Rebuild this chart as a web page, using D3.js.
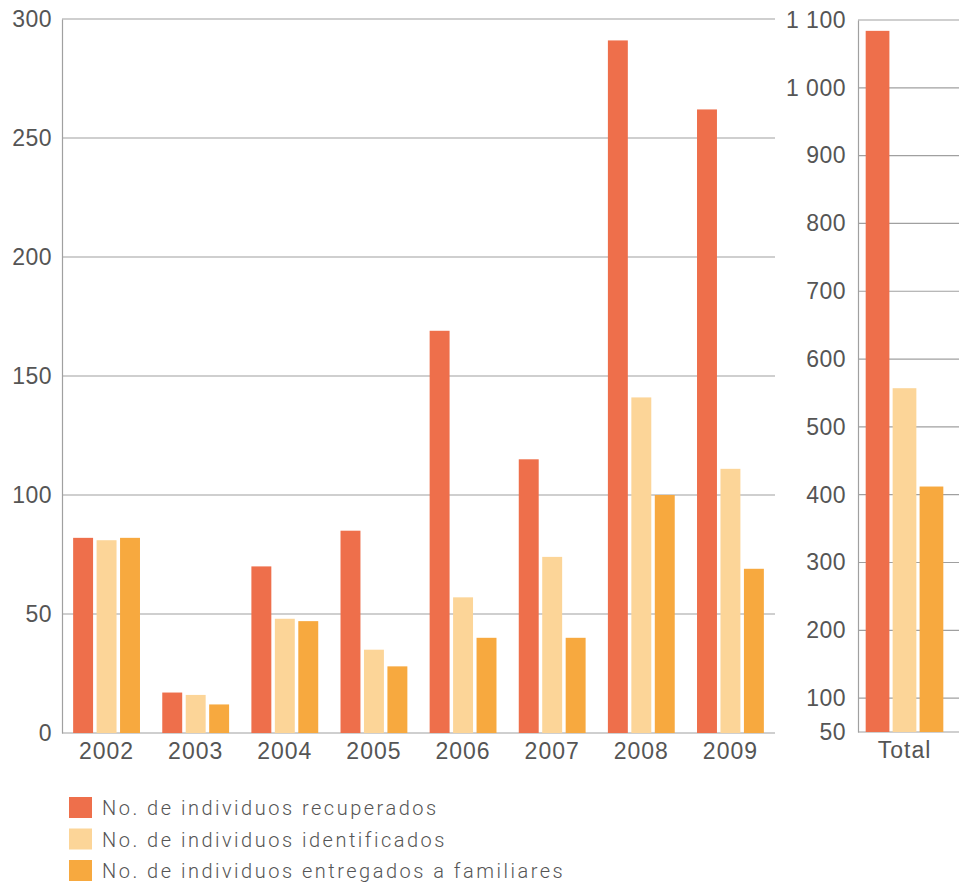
<!DOCTYPE html>
<meta charset="utf-8">
<script src="https://d3js.org/d3.v7.min.js"></script>
<style>
	body{
		margin:0;
		background:#fff;
		font-family: Roboto, 'Open Sans', sans-serif;
	}
	.tick text, .lbl{
		fill:#555;
		font-weight:300;
	}
</style>
<div id="chart"></div>
<script>
// values
var years = ["2002","2003","2004","2005","2006","2007","2008","2009"]
var series = ["recuperados","identificados","entregados"]
var seriesLabels = ["No. de individuos recuperados","No. de individuos identificados","No. de individuos entregados a familiares"]
var colors = ["#ee6f4b","#fcd598","#f7a93f"]

var recuperados = [82,17,70,85,169,115,291,262]
var identificados = [81,16,48,35,57,74,141,111]
var entregados = [82,12,47,28,40,40,100,69]
var totals = [1084,557,412]

var leftTicks = [0,50,100,150,200,250,300]
var rightTicks = [50,100,200,300,400,500,600,700,800,900,1000,1100]

var w = 959
var h = 886

var svg = d3.select("#chart").append("svg").attr("width",w).attr("height",h)

// ---- left chart (per year)
var yL = d3.scaleLinear().domain([0,300]).range([733,19])
var xL = d3.scaleBand().domain(years).range([62,775]).paddingInner(0.25).paddingOuter(0.125)
var xS = d3.scaleBand().domain(series).range([0,xL.bandwidth()]).paddingInner(0.15)

var gridL = svg.append("g")
gridL.selectAll("line")
	.data(leftTicks)
	.join("line")
	.attr("x1",62).attr("x2",775)
	.attr("y1",function(d){return yL(d)}).attr("y2",function(d){return yL(d)})
	.attr("stroke","#a0a0a0").attr("stroke-width",1.2)

var yAxisL = d3.axisLeft(yL).tickValues(leftTicks).tickSize(0).tickPadding(10)
svg.append("g").attr("transform","translate(62,0)").call(yAxisL)
	.call(function(g){
		g.select(".domain").attr("stroke","#a0a0a0").attr("stroke-width",1.2)
		g.selectAll("text").style("font-size","23px").style("letter-spacing","0.5px")
	})

var rows = years.map(function(y,i){
	return {year:y, values:[recuperados[i],identificados[i],entregados[i]]}
})

var groups = svg.append("g").selectAll("g")
	.data(rows)
	.join("g")
	.attr("transform",function(d){return "translate("+xL(d.year)+",0)"})

groups.selectAll("rect")
	.data(function(d){return d.values})
	.join("rect")
	.attr("x",function(d,i){return xS(series[i])})
	.attr("width",xS.bandwidth())
	.attr("y",function(d){return yL(d)})
	.attr("height",function(d){return yL(0)-yL(d)})
	.attr("fill",function(d,i){return colors[i]})

var xAxisL = d3.axisBottom(xL).tickSize(0).tickPadding(10)
svg.append("g").attr("transform","translate(0,733)").call(xAxisL)
	.call(function(g){
		g.select(".domain").remove()
		g.selectAll("text").style("font-size","23px").style("letter-spacing","1px")
	})

// ---- right chart (total)
var spaced = d3.formatLocale({decimal:",", thousands:" ", grouping:[3], currency:["",""]}).format(",")
var yR = d3.scaleLinear().domain([50,1100]).range([732,20])
var xR = d3.scaleBand().domain(["Total"]).range([858,951]).padding(0.09)
var xRS = d3.scaleBand().domain(series).range([0,xR.bandwidth()]).paddingInner(0.12)

svg.append("g").selectAll("line")
	.data(rightTicks)
	.join("line")
	.attr("x1",858).attr("x2",w)
	.attr("y1",function(d){return yR(d)}).attr("y2",function(d){return yR(d)})
	.attr("stroke","#a0a0a0").attr("stroke-width",1.2)

var yAxisR = d3.axisLeft(yR).tickValues(rightTicks).tickSize(0).tickPadding(12).tickFormat(spaced)
svg.append("g").attr("transform","translate(858,0)").call(yAxisR)
	.call(function(g){
		g.select(".domain").attr("stroke","#a0a0a0").attr("stroke-width",1.2)
		g.selectAll("text").style("font-size","23px").style("letter-spacing","0.5px")
	})

svg.append("g").attr("transform","translate("+xR("Total")+",0)")
	.selectAll("rect")
	.data(totals)
	.join("rect")
	.attr("x",function(d,i){return xRS(series[i])})
	.attr("width",xRS.bandwidth())
	.attr("y",function(d){return yR(d)})
	.attr("height",function(d){return yR(50)-yR(d)})
	.attr("fill",function(d,i){return colors[i]})

var xAxisR = d3.axisBottom(xR).tickSize(0).tickPadding(10)
svg.append("g").attr("transform","translate(0,732)").call(xAxisR)
	.call(function(g){
		g.select(".domain").remove()
		g.selectAll("text").style("font-size","23px").style("letter-spacing","1px")
	})

// ---- legend
var legend = svg.append("g").attr("transform","translate(69,797)")
var items = legend.selectAll("g")
	.data(seriesLabels)
	.join("g")
	.attr("transform",function(d,i){return "translate(0,"+(i*31.5)+")"})
items.append("rect").attr("width",23).attr("height",21)
	.attr("fill",function(d,i){return colors[i]})
items.append("text").attr("class","lbl")
	.attr("x",33).attr("y",11).attr("dy","0.35em")
	.style("font-size","20px")
	.style("letter-spacing","2.5px")
	.text(function(d){return d})
</script>
